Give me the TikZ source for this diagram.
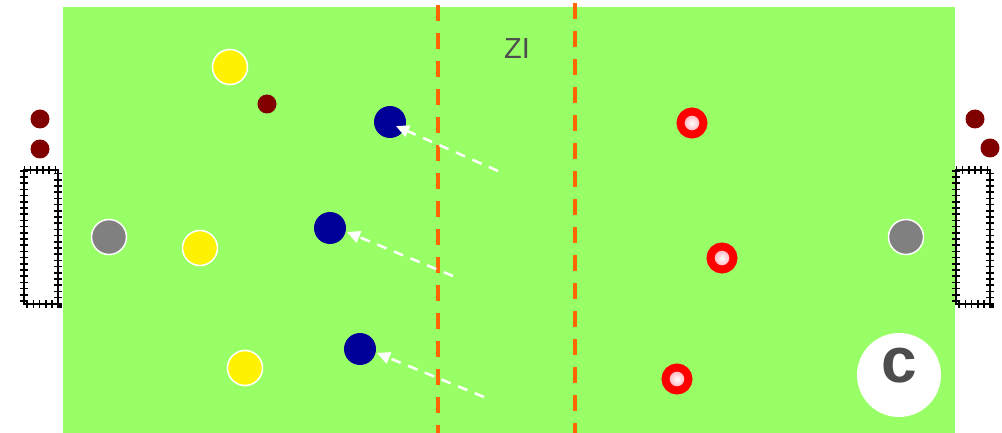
\documentclass[tikz,border=0pt]{standalone}
\usepackage{fontspec}
\setmainfont{Liberation Sans}
\usetikzlibrary{arrows.meta}
\definecolor{field}{RGB}{153,255,102}
\definecolor{zone}{RGB}{255,102,0}
\definecolor{navy}{RGB}{0,0,153}
\definecolor{maroon}{RGB}{128,0,0}
\definecolor{txtgray}{RGB}{77,77,77}
\definecolor{pinkin}{RGB}{255,150,165}
\tikzset{
  yellowp/.style={circle,fill=yellow,draw=white,line width=1.5pt,minimum size=35pt,inner sep=0pt},
  grayp/.style={circle,fill=gray,draw=white,line width=1.5pt,minimum size=35pt,inner sep=0pt},
  bluep/.style={circle,fill=navy,minimum size=32pt,inner sep=0pt},
  ballp/.style={circle,fill=maroon,minimum size=19pt,inner sep=0pt},
  redp/.style={circle,draw=red,line width=8pt,minimum size=23pt,inner sep=0pt,inner color=white,outer color=pinkin},
  zoneline/.style={draw=zone,line width=3.5pt,dash pattern=on 16pt off 12pt},
  runarrow/.style={draw=white,line width=2.5pt,dash pattern=on 10pt off 8pt,-{Triangle[length=13pt,width=12pt]}},
  goalline/.style={draw=black,line width=1.5pt},
  goalticks/.style={draw=black,line width=8pt,dash pattern=on 1.6pt off 4.6pt},
}
\begin{document}
\begin{tikzpicture}[x=1pt,y=-1pt]
\useasboundingbox (0,0) rectangle (1002,433);
\fill[white] (0,0) rectangle (1002,433);
\fill[field] (63,7) rectangle (955,433);
% zone lines
\draw[zoneline] (438,5) -- (438,433);
\draw[zoneline] (575,3) -- (575,433);
\node[text=txtgray,font=\fontsize{29}{30}\selectfont] (zi) at (517,49) {ZI};
% goals
\fill[white] (24,170) rectangle (58,304);
\draw[goalticks] (24,170) rectangle (58,304);
\draw[goalline] (24,170) rectangle (58,304);
\fill[white] (956,170) rectangle (990,304);
\draw[goalticks] (956,170) rectangle (990,304);
\draw[goalline] (956,170) rectangle (990,304);
% balls
\node[ballp] (b1) at (40,119) {};
\node[ballp] (b2) at (40,149) {};
\node[ballp] (b3) at (975,119) {};
\node[ballp] (b4) at (990,148) {};
\node[ballp] (b5) at (267,104) {};
% players
\node[yellowp] (y1) at (230,67) {};
\node[yellowp] (y2) at (200,248) {};
\node[yellowp] (y3) at (245,368) {};
\node[grayp] (g1) at (109,237) {};
\node[grayp] (g2) at (906,237) {};
\node[bluep] (n1) at (390,122) {};
\node[bluep] (n2) at (330,228) {};
\node[bluep] (n3) at (360,349) {};
\node[redp] (r1) at (692,123) {};
\node[redp] (r2) at (722,258) {};
\node[redp] (r3) at (677,379) {};
% arrows
\coordinate (s1) at (498,171);
\coordinate (s2) at (453,276);
\coordinate (s3) at (484,397);
\coordinate (e1) at (396,126);
\coordinate (e2) at (347,232);
\coordinate (e3) at (377,353);
\draw[runarrow] (s1) -- (e1);
\draw[runarrow] (s2) -- (e2);
\draw[runarrow] (s3) -- (e3);
% c badge
\node[circle,fill=white,minimum size=84pt,inner sep=0pt] (cb) at (899,375) {};
\node[text=txtgray,font=\bfseries\fontsize{64}{64}\selectfont] (ct) at (899,366) {c};
\end{tikzpicture}
\end{document}
